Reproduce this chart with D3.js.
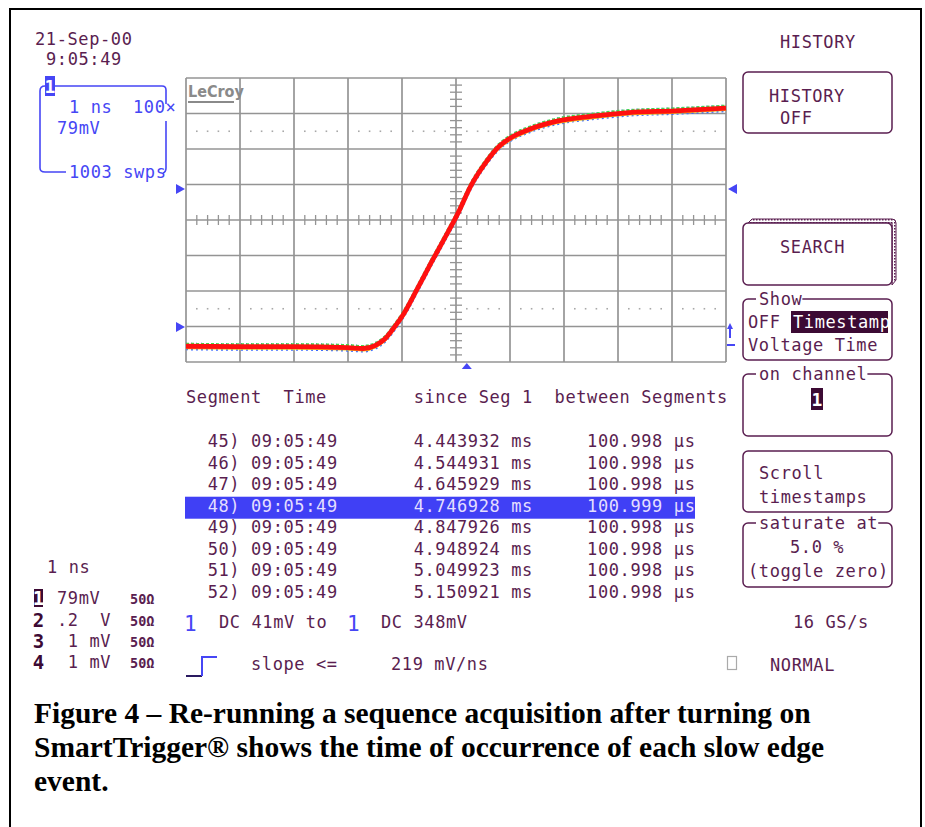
<!DOCTYPE html>
<html lang="en">
<head>
<meta charset="UTF-8">
<title>SmartTrigger sequence timestamps</title>
<style>
    body { margin: 0; background: #fff; }
    svg { display: block; }
    .scope { font-family: "DejaVu Sans Mono", monospace; font-size: 17px; letter-spacing: 0.6px; fill: #5a1e50; }
    .blue { fill: #4646f5; }
    .caption { font-family: "Liberation Serif", "Times New Roman", serif; font-weight: bold; font-size: 29.5px; fill: #000; }
</style>
</head>
<body>
<svg id="chart" width="925" height="827"></svg>
<script src="https://d3js.org/d3.v7.min.js"></script>
<script>
    // trace: time (ns, 1 ns/div) vs level (mV, 79 mV/div)
    const timeNs  = [-5, -4, -3, -2, -1.72, -1.49, -1.32, -1.12, -0.97, -0.72, -0.46, -0.19, 0.04, 0.27, 0.54, 0.8, 1.0, 1.34, 1.87, 2.53, 3.2, 4.06, 5.0];
    const levelMv = [-281, -282, -282, -284, -286, -279, -265, -235, -209, -154, -95, -36, 16, 75, 126, 164, 182, 201, 220, 231, 239, 243, 249];

    // segment table
    const segNums   = [45, 46, 47, 48, 49, 50, 51, 52];
    const segTimes  = ["09:05:49", "09:05:49", "09:05:49", "09:05:49", "09:05:49", "09:05:49", "09:05:49", "09:05:49"];
    const sinceSeg1 = ["4.443932", "4.544931", "4.645929", "4.746928", "4.847926", "4.948924", "5.049923", "5.150921"];
    const betweenUs = ["100.998", "100.998", "100.998", "100.999", "100.998", "100.998", "100.998", "100.998"];
    const selectedSeg = 48;

    // channel setup list
    const chanIds    = ["1", "2", "3", "4"];
    const chanScales = ["79mV", ".2  V", " 1 mV", " 1 mV"];
    const chanImp    = ["50\u03a9", "50\u03a9", "50\u03a9", "50\u03a9"];

    const ink = "#5a1e50";
    const blue = "#4646f5";
    const svg = d3.select("#chart");
    const cw = 10.84; // monospace cell width

    // outer frame
    svg.append("rect").attr("x", 10).attr("y", 9).attr("width", 911).attr("height", 830)
        .attr("fill", "none").attr("stroke", "#000").attr("stroke-width", 2);

    // ---- grid ----
    const x = d3.scaleLinear().domain([-5, 5]).range([186, 726]);
    const y = d3.scaleLinear().domain([-4 * 79, 4 * 79]).range([362, 78]);
    const gridCol = "#949494";
    const grid = svg.append("g");
    d3.range(-5, 6).forEach(t => {
        grid.append("line").attr("x1", x(t)).attr("x2", x(t)).attr("y1", y.range()[1]).attr("y2", y.range()[0])
            .attr("stroke", gridCol).attr("stroke-width", 1.7);
    });
    d3.range(-4, 5).forEach(v => {
        grid.append("line").attr("x1", x.range()[0]).attr("x2", x.range()[1]).attr("y1", y(v * 79)).attr("y2", y(v * 79))
            .attr("stroke", gridCol).attr("stroke-width", 1.7);
    });
    // minor ticks on the centre axes, dotted rows
    d3.range(-5, 5, 0.2).forEach(t => {
        if (Math.abs(t - Math.round(t)) < 0.01) return;
        grid.append("line").attr("x1", x(t)).attr("x2", x(t)).attr("y1", y(0) - 5).attr("y2", y(0) + 5)
            .attr("stroke", gridCol).attr("stroke-width", 1.3);
        [2.5 * 79, -2.5 * 79].forEach(v => {
            grid.append("rect").attr("x", x(t) - 0.8).attr("y", y(v) - 0.8).attr("width", 1.6).attr("height", 1.6).attr("fill", "#a8a8a8");
        });
    });
    d3.range(-4, 4, 0.2).forEach(v => {
        if (Math.abs(v - Math.round(v)) < 0.01) return;
        grid.append("line").attr("x1", x(0) - 6).attr("x2", x(0) + 6).attr("y1", y(v * 79)).attr("y2", y(v * 79))
            .attr("stroke", gridCol).attr("stroke-width", 1.3);
    });

    // LeCroy logo
    svg.append("text").attr("x", 188).attr("y", 97).text("LeCroy")
        .attr("font-family", "DejaVu Sans Condensed, sans-serif").attr("font-weight", "bold")
        .attr("font-size", 16).attr("fill", "#8a8a8a");
    svg.append("line").attr("x1", 188).attr("x2", 234).attr("y1", 102).attr("y2", 102).attr("stroke", "#8a8a8a").attr("stroke-width", 2);

    // ---- trace (persistence colours under the red) ----
    const pts = timeNs.map((t, i) => [t, levelMv[i]]);
    const line = d3.line().x(d => x(d[0])).y(d => y(d[1])).curve(d3.curveMonotoneX);
    const trace = svg.append("g");
    trace.append("path").attr("d", line(pts)).attr("transform", "translate(0,2.8)")
        .attr("fill", "none").attr("stroke", "#3a6cff").attr("stroke-width", 2.5).attr("stroke-dasharray", "2 3");
    trace.append("path").attr("d", line(pts)).attr("transform", "translate(0,-2.6)")
        .attr("fill", "none").attr("stroke", "#2a60ff").attr("stroke-width", 2).attr("stroke-dasharray", "1 4");
    trace.append("path").attr("d", line(pts)).attr("transform", "translate(0,-2)")
        .attr("fill", "none").attr("stroke", "#48d848").attr("stroke-width", 3).attr("stroke-dasharray", "3 2");
    trace.append("path").attr("d", line(pts)).attr("transform", "translate(0,2)")
        .attr("fill", "none").attr("stroke", "#f0c020").attr("stroke-width", 2);
    trace.append("path").attr("d", line(pts))
        .attr("fill", "none").attr("stroke", "#ff1010").attr("stroke-width", 4.8);

    // blue markers round the grid
    const mk = svg.append("g").attr("fill", blue);
    [189, 327].forEach(yy => mk.append("path").attr("d", `M176,${yy - 5}L185,${yy}L176,${yy + 5}Z`));
    mk.append("path").attr("d", "M737,184L728,189L737,194Z");
    mk.append("path").attr("d", `M${x(0.2) - 5},369L${x(0.2)},363L${x(0.2) + 5},369Z`);
    mk.append("path").attr("d", "M727,329L730,323L733,329Z");
    mk.append("rect").attr("x", 729).attr("y", 327).attr("width", 2).attr("height", 11);
    mk.append("rect").attr("x", 727).attr("y", 344).attr("width", 8).attr("height", 2);

    // ---- top-left info ----
    const txt = (xx, yy, s, cls) => svg.append("text").attr("class", cls || "scope").attr("x", xx).attr("y", yy).text(s);
    txt(35, 45, "21-Sep-00");
    txt(46, 65, "9:05:49");

    const cb = svg.append("g").attr("fill", "none").attr("stroke", blue).attr("stroke-width", 1.6);
    cb.append("path").attr("d", "M55,86L162,86Q166,86 166,90L166,104");
    cb.append("path").attr("d", "M166,121L166,168Q166,172 163,173");
    cb.append("path").attr("d", "M45,86Q40,86 40,91L40,168Q40,172 45,172L66,172");
    svg.append("rect").attr("x", 45).attr("y", 76).attr("width", 10).attr("height", 20).attr("fill", blue);
    svg.append("text").attr("x", 50).attr("y", 93).attr("text-anchor", "middle").text("1")
        .attr("font-family", "DejaVu Sans Mono").attr("font-weight", "bold").attr("font-size", 18).attr("fill", "#fff");
    txt(69, 113, "1 ns", "scope blue");
    txt(133, 113, "100\u00d7", "scope blue");
    txt(57, 134, "79mV", "scope blue");
    txt(69, 178, "1003 swps", "scope blue");

    // ---- right-hand menu ----
    txt(780, 48, "HISTORY");
    const box = (y0, y1) => svg.append("rect").attr("x", 743).attr("y", y0).attr("width", 149).attr("height", y1 - y0)
        .attr("rx", 5).attr("fill", "none").attr("stroke", ink).attr("stroke-width", 1.5);
    box(72, 133);
    txt(769, 102, "HISTORY");
    txt(780, 124, "OFF");

    // SEARCH key with raised edge
    const pat = svg.append("defs").append("pattern").attr("id", "hatch").attr("width", 3).attr("height", 3).attr("patternUnits", "userSpaceOnUse");
    pat.append("rect").attr("width", 3).attr("height", 3).attr("fill", "#fff");
    pat.append("rect").attr("width", 1.5).attr("height", 1.5).attr("fill", ink);
    svg.append("path").attr("d", "M748,223L752,219L892,219Q896,219 896,223L896,280L892,285L892,223Z")
        .attr("fill", "url(#hatch)").attr("stroke", ink).attr("stroke-width", 1);
    box(223, 285).attr("fill", "#fff");
    txt(780, 253, "SEARCH");

    // labelled boxes: the label breaks the top edge
    const labelled = (y0, y1, label) => {
        box(y0, y1);
        svg.append("rect").attr("x", 756).attr("y", y0 - 4).attr("width", label.length * cw + 3).attr("height", 8).attr("fill", "#fff");
        txt(759, y0 + 6, label);
    };
    labelled(299, 360, "Show");
    txt(748, 328, "OFF");
    svg.append("rect").attr("x", 791).attr("y", 311).attr("width", 97).attr("height", 22).attr("fill", "#3c0a34");
    txt(793, 328, "Timestamp").style("fill", "#fff");
    txt(748, 351, "Voltage Time");

    labelled(374, 436, "on channel");
    svg.append("rect").attr("x", 811).attr("y", 388).attr("width", 12).attr("height", 22).attr("fill", "#3c0a34");
    svg.append("text").attr("x", 817).attr("y", 406).attr("text-anchor", "middle").text("1")
        .attr("font-family", "DejaVu Sans Mono").attr("font-weight", "bold").attr("font-size", 18).attr("fill", "#fff");

    box(451, 512);
    txt(759, 479, "Scroll");
    txt(759, 503, "timestamps");

    labelled(523, 587, "saturate at");
    txt(790, 553, "5.0 %");
    txt(748, 577, "(toggle zero)");

    // ---- segment table ----
    const tx = 186;
    txt(tx, 403, "Segment");
    txt(tx + 9 * cw, 403, "Time");
    txt(tx + 21 * cw, 403, "since Seg 1");
    txt(tx + 34 * cw, 403, "between Segments");
    const rowY = d3.scaleLinear().domain([0, 7]).range([447, 598]);
    segNums.forEach((n, i) => {
        const yy = rowY(i);
        const sel = n === selectedSeg;
        if (sel) svg.append("rect").attr("x", 185).attr("y", yy - 15).attr("width", 510).attr("height", 22).attr("fill", "#4040f5");
        const fill = sel ? "#e4deff" : ink;
        txt(tx + 2 * cw, yy, n + ")").style("fill", fill);
        txt(tx + 6 * cw, yy, segTimes[i]).style("fill", fill);
        txt(tx + 21 * cw, yy, sinceSeg1[i]).style("fill", fill);
        txt(tx + 30 * cw, yy, "ms").style("fill", fill);
        txt(tx + 37 * cw, yy, betweenUs[i]).style("fill", fill);
        txt(tx + 45 * cw, yy, "\u03bcs").style("fill", fill);
    });

    // ---- bottom-left channel list ----
    txt(47, 573, "1 ns");
    const chY = [604, 626, 647, 668];
    chanIds.forEach((c, i) => {
        if (i === 0) svg.append("rect").attr("x", 34).attr("y", chY[i] - 15).attr("width", 9).attr("height", 18).attr("fill", "#3c0a34");
        svg.append("text").attr("x", 38.5).attr("y", chY[i] + 1).attr("text-anchor", "middle").text(c)
            .attr("font-family", "DejaVu Sans Mono").attr("font-weight", "bold").attr("font-size", 19)
            .attr("fill", i === 0 ? "#fff" : "#3c0a34");
        txt(57, chY[i], chanScales[i]).style("white-space", "pre");
        txt(130, chY[i], chanImp[i]).style("font-size", "13.5px").style("letter-spacing", "0px").style("font-weight", "bold");
    });

    // trigger description
    const big1 = xx => svg.append("text").attr("x", xx).attr("y", 631).text("1")
        .attr("font-family", "DejaVu Sans Mono").attr("font-size", 21).attr("fill", blue);
    big1(184);
    txt(219, 628, "DC 41mV to");
    big1(347);
    txt(381, 628, "DC 348mV");
    txt(793, 628, "16 GS/s");

    svg.append("path").attr("d", "M186,676L202,676").attr("stroke", "#2a1a60").attr("stroke-width", 2);
    svg.append("path").attr("d", "M202,676L202,657L217,657").attr("fill", "none").attr("stroke", blue).attr("stroke-width", 2);
    txt(251, 670, "slope <=");
    txt(391, 670, "219 mV/ns");
    svg.append("rect").attr("x", 727.5).attr("y", 656.5).attr("width", 9).attr("height", 13)
        .attr("fill", "none").attr("stroke", "#aaa").attr("stroke-width", 1.2);
    txt(770, 671, "NORMAL");

    // ---- caption ----
    txt(34, 723, "Figure 4 \u2013 Re-running a sequence acquisition after turning on", "caption");
    txt(34, 757, "SmartTrigger\u00ae shows the time of occurrence of each slow edge", "caption");
    txt(34, 791, "event.", "caption");
</script>
</body>
</html>
